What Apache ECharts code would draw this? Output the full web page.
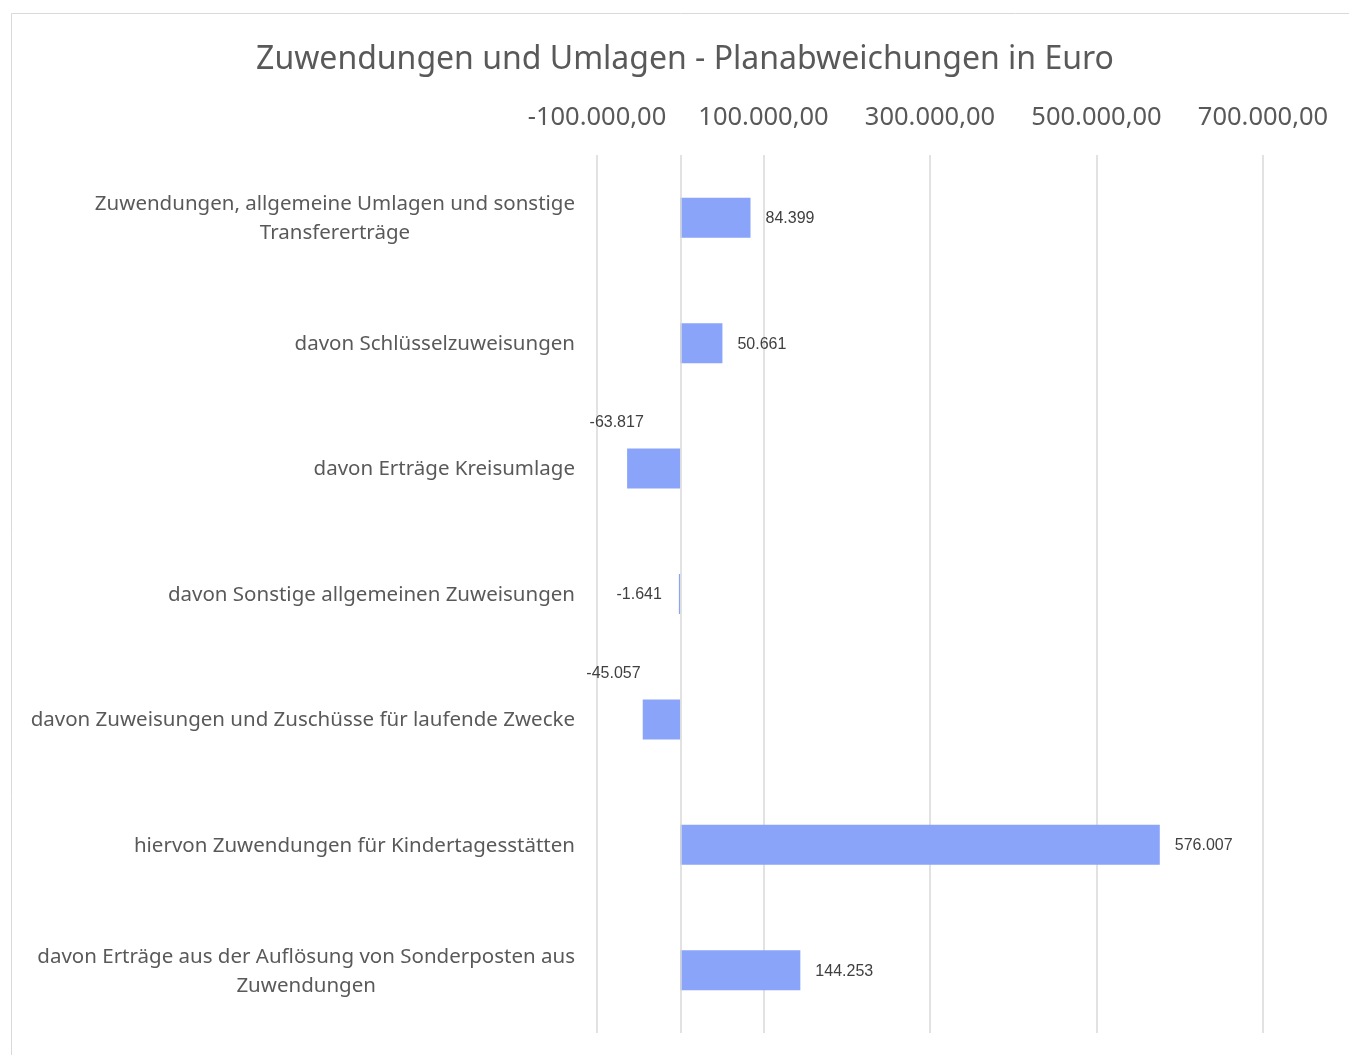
<!DOCTYPE html>
<html>
<head>
<meta charset="utf-8">
<title>Zuwendungen und Umlagen</title>
<script src="https://cdn.jsdelivr.net/npm/echarts@6/dist/echarts.min.js"></script>
<style>
    html, body { margin: 0; padding: 0; background: #fff; }
    #container { width: 1349px; height: 1055px; }
</style>
</head>
<body>
<div id="container"></div>
<script>
// Daten
var categories = [
    'Zuwendungen, allgemeine Umlagen und sonstige Transfererträge',
    'davon Schlüsselzuweisungen',
    'davon Erträge Kreisumlage',
    'davon Sonstige allgemeinen Zuweisungen',
    'davon Zuweisungen und Zuschüsse für laufende Zwecke',
    'hiervon Zuwendungen für Kindertagesstätten',
    'davon Erträge aus der Auflösung von Sonderposten aus Zuwendungen'
];
var values = [84399, 50661, -63817, -1641, -45057, 576007, 144253];
var axisMin = -100000;
var axisMax = 700000;
var axisStep = 200000;

var catFont = '20.5px "Noto Sans"';
var catWrapWidth = 550;

// deutsches Zahlenformat
function fmt(v, dec) {
    return v.toLocaleString('de-DE', { minimumFractionDigits: dec, maximumFractionDigits: dec });
}

// Zeilenumbruch nach Breite, Zeilen werden zentriert (wie Excel)
var measureCtx = document.createElement('canvas').getContext('2d');
measureCtx.font = catFont;
function wrapLabel(text) {
    var words = text.split(' ');
    var lines = [];
    var cur = '';
    words.forEach(function (w) {
        var test = cur ? cur + ' ' + w : w;
        if (cur && measureCtx.measureText(test).width > catWrapWidth) {
            lines.push(cur);
            cur = w;
        } else {
            cur = test;
        }
    });
    lines.push(cur);
    return lines.map(function (l) { return '{c|' + l + '}'; }).join('\n');
}

// Beschriftung wie in Excel: manche negative Werte stehen über dem Balken
var labelShift = { 2: [-37, 1], 4: [-48, 1] };

var barData = values.map(function (v, i) {
    var item = { value: v };
    if (labelShift[i]) {
        item.label = { position: 'top', distance: 19, offset: labelShift[i] };
    } else if (v < 0) {
        item.label = { position: 'left', distance: 17 };
    }
    return item;
});

var myChart = echarts.init(document.getElementById('container'));
var option = {
    animation: false,
    title: {
        text: 'Zuwendungen und Umlagen - Planabweichungen in Euro',
        left: 680,
        textAlign: 'center',
        top: 39,
        textStyle: {
            fontFamily: 'Noto Sans',
            fontSize: 32,
            fontWeight: 'normal',
            color: '#595959'
        }
    },
    graphic: [{
        type: 'rect',
        shape: { x: 11.5, y: 13.5, width: 1400, height: 1100 },
        style: { fill: 'none', stroke: '#d9d9d9', lineWidth: 1 },
        silent: true
    }],
    grid: {
        left: 597,
        right: 86,
        top: 155,
        bottom: 22
    },
    xAxis: {
        type: 'value',
        position: 'top',
        min: axisMin,
        max: axisMax,
        interval: axisStep,
        axisLine: { show: false },
        axisTick: { show: false },
        splitLine: { lineStyle: { color: '#d9d9d9', width: 1.5 } },
        axisLabel: {
            margin: 24,
            fontFamily: 'Noto Sans',
            fontSize: 25.5,
            color: '#595959',
            formatter: function (v) { return fmt(v, 2); }
        }
    },
    yAxis: {
        type: 'category',
        inverse: true,
        data: categories,
        axisLine: { show: false },
        axisTick: { show: false },
        axisLabel: {
            margin: 22,
            align: 'right',
            formatter: wrapLabel,
            rich: {
                c: {
                    fontFamily: 'Noto Sans',
                    fontSize: 20.5,
                    lineHeight: 29,
                    color: '#595959',
                    align: 'center',
                    padding: [2, 0, 0, 0]
                }
            }
        }
    },
    series: [{
        type: 'bar',
        data: barData,
        barWidth: 40,
        itemStyle: { color: '#89a4f8' },
        label: {
            show: true,
            position: 'right',
            distance: 15,
            fontFamily: 'Liberation Sans',
            fontSize: 16,
            color: '#404040',
            offset: [0, 1],
            formatter: function (p) { return fmt(p.value, 0); }
        },
        markLine: {
            silent: true,
            symbol: 'none',
            label: { show: false },
            lineStyle: { color: '#d9d9d9', type: 'solid', width: 1.5 },
            data: [{ xAxis: 0 }]
        }
    }]
};
myChart.setOption(option);
</script>
</body>
</html>
